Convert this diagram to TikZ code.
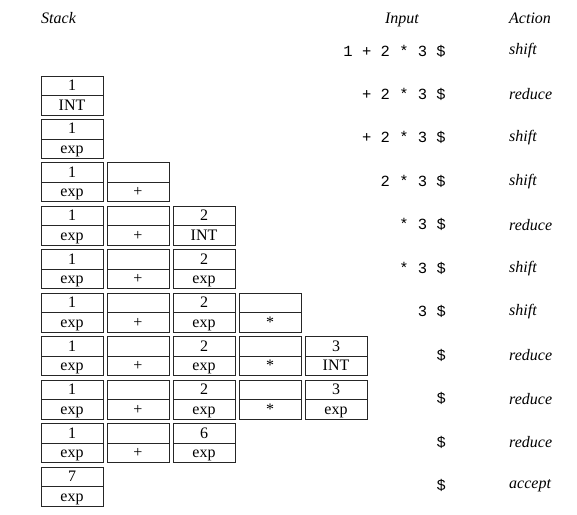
\documentclass[tikz,border=0pt]{standalone}
\usepackage{fontspec}
\setmainfont{Liberation Serif}
\setmonofont{Liberation Mono}
\tikzset{
  every node/.style={font=\fontsize{16}{19}\selectfont},
  half/.style={draw=black!85, line width=0.9pt, minimum width=62pt, minimum height=19.5pt,
    inner sep=0pt, text height=11.5pt, text depth=2pt, anchor=center},
  head/.style={font=\fontsize{16}{19}\selectfont\itshape, inner sep=0pt, anchor=base},
  inp/.style={font=\fontsize{15.5}{18}\ttfamily, inner sep=0pt, anchor=east},
  act/.style={font=\fontsize{16}{19}\selectfont\itshape, inner sep=0pt, anchor=west},
}
\newcommand\stackcell[5]{%
  \node[half] (#1t) at ({72+66*(#2-1)}, {85.75+43.45*(#3-1)}) {#4};
  \node[half] (#1b) at ({72+66*(#2-1)}, {105.25+43.45*(#3-1)}) {#5};}
\newcommand\rowtext[4]{%
  \node[inp] (in#1) at (446, {51+43.45*#2}) {#3};
  \node[act] (ac#1) at (509, {51+43.45*#2}) {#4};}
\begin{document}
\begin{tikzpicture}[x=1pt,y=-1pt]
\useasboundingbox (0,0) rectangle (577,514);
\node[head, anchor=base west] (hstack) at (41,23) {Stack};
\node[head] (hinput) at (402,23) {Input};
\node[head, anchor=base west] (haction) at (509,23) {Action};
% input / action rows
\rowtext{0}{0}{1 + 2 * 3 \$}{shift}
\rowtext{1}{1}{+ 2 * 3 \$}{reduce}
\rowtext{2}{2}{+ 2 * 3 \$}{shift}
\rowtext{3}{3}{2 * 3 \$}{shift}
\rowtext{4}{4}{* 3 \$}{reduce}
\rowtext{5}{5}{* 3 \$}{shift}
\rowtext{6}{6}{3 \$}{shift}
\rowtext{7}{7}{\$}{reduce}
\rowtext{8}{8}{\$}{reduce}
\rowtext{9}{9}{\$}{reduce}
\rowtext{10}{10}{\$}{accept}
% stacks
\stackcell{a1}{1}{1}{1}{INT}
\stackcell{a2}{1}{2}{1}{exp}
\stackcell{a3}{1}{3}{1}{exp}
\stackcell{b3}{2}{3}{}{+}
\stackcell{a4}{1}{4}{1}{exp}
\stackcell{b4}{2}{4}{}{+}
\stackcell{c4}{3}{4}{2}{INT}
\stackcell{a5}{1}{5}{1}{exp}
\stackcell{b5}{2}{5}{}{+}
\stackcell{c5}{3}{5}{2}{exp}
\stackcell{a6}{1}{6}{1}{exp}
\stackcell{b6}{2}{6}{}{+}
\stackcell{c6}{3}{6}{2}{exp}
\stackcell{d6}{4}{6}{}{*}
\stackcell{a7}{1}{7}{1}{exp}
\stackcell{b7}{2}{7}{}{+}
\stackcell{c7}{3}{7}{2}{exp}
\stackcell{d7}{4}{7}{}{*}
\stackcell{e7}{5}{7}{3}{INT}
\stackcell{a8}{1}{8}{1}{exp}
\stackcell{b8}{2}{8}{}{+}
\stackcell{c8}{3}{8}{2}{exp}
\stackcell{d8}{4}{8}{}{*}
\stackcell{e8}{5}{8}{3}{exp}
\stackcell{a9}{1}{9}{1}{exp}
\stackcell{b9}{2}{9}{}{+}
\stackcell{c9}{3}{9}{6}{exp}
\stackcell{a10}{1}{10}{7}{exp}
\end{tikzpicture}
\end{document}
